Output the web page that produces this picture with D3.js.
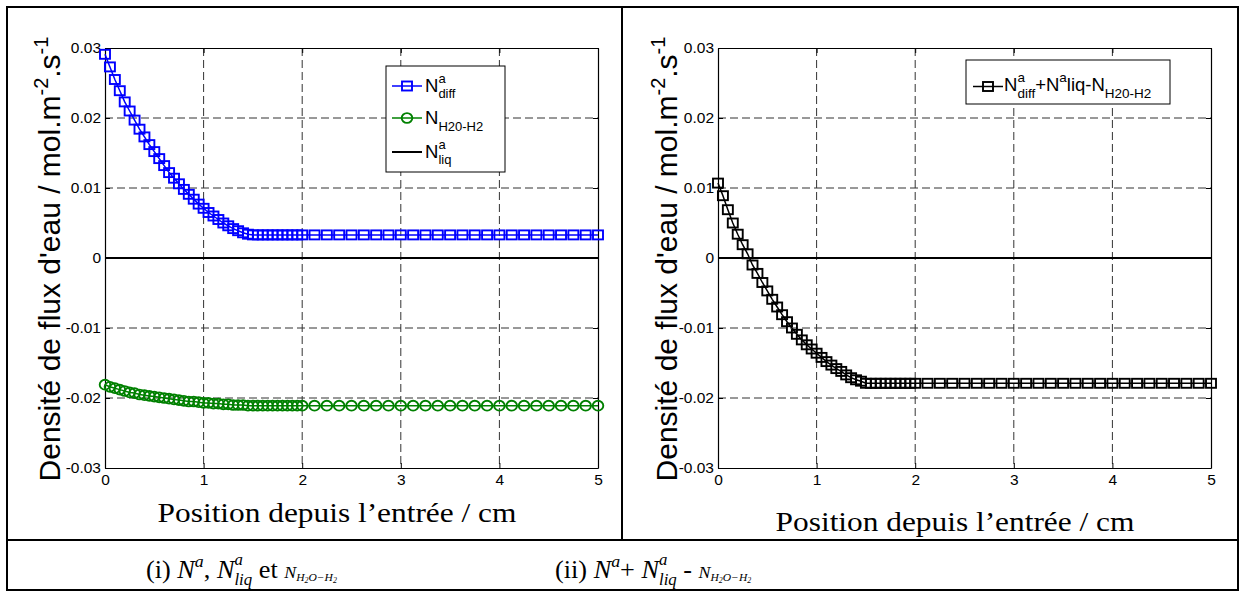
<!DOCTYPE html>
<html><head><meta charset="utf-8">
<script src="https://cdn.jsdelivr.net/npm/d3@7"></script>
<style>body{margin:0;background:#fff}svg{display:block}text{white-space:pre}</style>
</head><body>
<svg id="c" width="1245" height="597"></svg>
<script>
// ---------- data ----------
const positions = [0,0.05,0.1,0.15,0.2,0.25,0.3,0.35,0.4,0.45,0.5,0.55,0.6,0.65,0.7,0.75,0.8,0.85,0.9,0.95,
  1,1.05,1.1,1.15,1.2,1.25,1.3,1.35,1.4,1.45,1.5,1.55,1.6,1.65,1.7,1.75,1.8,1.85,1.9,1.95,2,
  2.125,2.25,2.375,2.5,2.625,2.75,2.875,3,3.125,3.25,3.375,3.5,3.625,3.75,3.875,4,4.125,4.25,4.375,4.5,4.625,4.75,4.875,5];
const nDiff = [0.0291,0.0273,0.0255,0.0239,0.0223,0.0210,0.0197,0.0184,0.0173,0.0162,0.0152,0.0142,0.0132,0.0122,0.0114,0.0106,0.0098,0.0091,0.0084,0.0077,
  0.0071,0.0065,0.0060,0.0055,0.0050,0.0046,0.0042,0.0039,0.0036,0.0034,0.0033,0.0033,0.0033,0.0033,0.0033,0.0033,0.0033,0.0033,0.0033,0.0033,0.0033,
  0.0033,0.0033,0.0033,0.0033,0.0033,0.0033,0.0033,0.0033,0.0033,0.0033,0.0033,0.0033,0.0033,0.0033,0.0033,0.0033,0.0033,0.0033,0.0033,0.0033,0.0033,0.0033,0.0033,0.0033];
const nH2OH2 = [-0.0181,-0.0184,-0.0186,-0.0188,-0.0190,-0.0192,-0.0193,-0.0195,-0.0196,-0.0197,-0.0198,-0.0199,-0.0200,-0.0201,-0.0202,-0.0203,-0.0204,-0.0205,-0.0205,-0.0206,
  -0.0207,-0.0207,-0.0208,-0.0208,-0.0209,-0.0209,-0.0210,-0.0210,-0.0210,-0.0211,-0.0211,-0.0211,-0.0211,-0.0211,-0.0211,-0.0211,-0.0211,-0.0211,-0.0211,-0.0211,-0.0211,
  -0.0211,-0.0211,-0.0211,-0.0211,-0.0211,-0.0211,-0.0211,-0.0211,-0.0211,-0.0211,-0.0211,-0.0211,-0.0211,-0.0211,-0.0211,-0.0211,-0.0211,-0.0211,-0.0211,-0.0211,-0.0211,-0.0211,-0.0211,-0.0211];
const nLiqX = [0,5];
const nLiq = [0,0];
const nSum = [0.0107,0.0089,0.0069,0.0050,0.0034,0.0019,0.0006,-0.0010,-0.0022,-0.0035,-0.0047,-0.0059,-0.0070,-0.0081,-0.0091,-0.0100,-0.0109,-0.0117,-0.0124,-0.0130,
  -0.0136,-0.0142,-0.0148,-0.0153,-0.0158,-0.0162,-0.0167,-0.0171,-0.0174,-0.0176,-0.0179,-0.0179,-0.0179,-0.0179,-0.0179,-0.0179,-0.0179,-0.0179,-0.0179,-0.0179,-0.0179,
  -0.0179,-0.0179,-0.0179,-0.0179,-0.0179,-0.0179,-0.0179,-0.0179,-0.0179,-0.0179,-0.0179,-0.0179,-0.0179,-0.0179,-0.0179,-0.0179,-0.0179,-0.0179,-0.0179,-0.0179,-0.0179,-0.0179,-0.0179,-0.0179];
const xTicks = [0,1,2,3,4,5];
const xTickLabels = ["0","1","2","3","4","5"];
const yTicks = [-0.03,-0.02,-0.01,0,0.01,0.02,0.03];
const yTickLabels = ["-0.03","-0.02","-0.01","0","0.01","0.02","0.03"];

// ---------- helpers ----------
const svg = d3.select('#c');
const SANS = "'Liberation Sans', Arial, sans-serif";
const SERIF = "'Liberation Serif', 'Times New Roman', serif";

function rich(g, x, y, runs, family) {
  let cx = x, stackStart = null, stackEnd = 0;
  runs.forEach(r => {
    const t = g.append('text').attr('x', cx).attr('y', y + (r.dy || 0))
      .attr('font-family', r.family || family).attr('font-size', r.size)
      .attr('font-style', r.italic ? 'italic' : 'normal').attr('fill', '#000').text(r.t);
    const w = t.node().getComputedTextLength();
    if (r.stack) { stackStart = cx; stackEnd = cx + w; }
    else if (stackStart !== null) { cx = Math.max(stackEnd, cx + w); stackStart = null; }
    else cx += w;
  });
  return cx;
}

function marker(g, type, cx, cy, color) {
  if (type === 'square') {
    g.append('rect').attr('x', cx - 5).attr('y', cy - 4.5).attr('width', 10).attr('height', 9)
      .attr('fill', 'none').attr('stroke', color).attr('stroke-width', 1.9);
  } else {
    g.append('ellipse').attr('cx', cx).attr('cy', cy).attr('rx', 5.3).attr('ry', 4.9)
      .attr('fill', 'none').attr('stroke', color).attr('stroke-width', 1.9);
  }
}

function panel(left, series) {
  const x = d3.scaleLinear().domain([0, 5]).range([left, left + 493]);
  const y = d3.scaleLinear().domain([-0.03, 0.03]).range([468, 48]);
  const g = svg.append('g');

  g.selectAll('.vg').data(xTicks.slice(1, -1)).join('line')
    .attr('x1', d => x(d)).attr('x2', d => x(d)).attr('y1', y(0.03)).attr('y2', y(-0.03))
    .attr('stroke', '#333').attr('stroke-width', 1).attr('stroke-dasharray', '8,4');
  g.selectAll('.hg').data(yTicks.slice(1, -1)).join('line')
    .attr('y1', d => y(d)).attr('y2', d => y(d)).attr('x1', x(0)).attr('x2', x(5))
    .attr('stroke', '#333').attr('stroke-width', 1).attr('stroke-dasharray', '8,4');

  const fmtY = d => yTickLabels[yTicks.indexOf(d)];
  const fmtX = d => xTickLabels[xTicks.indexOf(d)];
  const ax = [
    g.append('g').attr('transform', `translate(0,${y(-0.03)})`).call(d3.axisBottom(x).tickValues(xTicks).tickFormat(fmtX).tickSize(-5).tickSizeOuter(0).tickPadding(6)),
    g.append('g').attr('transform', `translate(0,${y(0.03)})`).call(d3.axisTop(x).tickValues(xTicks).tickFormat('').tickSize(-5).tickSizeOuter(0)),
    g.append('g').attr('transform', `translate(${x(0)},0)`).call(d3.axisLeft(y).tickValues(yTicks).tickFormat(fmtY).tickSize(-5).tickSizeOuter(0).tickPadding(4)),
    g.append('g').attr('transform', `translate(${x(5)},0)`).call(d3.axisRight(y).tickValues(yTicks).tickFormat('').tickSize(-5).tickSizeOuter(0))
  ];
  ax.forEach(a => {
    a.selectAll('text').attr('font-family', SANS).attr('font-size', 15.5).attr('fill', '#000');
    a.selectAll('line').attr('stroke', '#000');
    a.select('.domain').attr('stroke', '#000').attr('stroke-width', 1.2);
  });

  g.append('path').datum(nLiqX.map((d, i) => [d, nLiq[i]]))
    .attr('d', d3.line().x(d => x(d[0])).y(d => y(d[1])))
    .attr('fill', 'none').attr('stroke', '#000').attr('stroke-width', 2);

  series.forEach(s => {
    const pts = positions.map((p, i) => [p, s.values[i]]);
    g.append('path').datum(pts).attr('d', d3.line().x(d => x(d[0])).y(d => y(d[1])))
      .attr('fill', 'none').attr('stroke', s.color).attr('stroke-width', 1.5);
    const mg = g.append('g');
    pts.forEach(d => marker(mg, s.marker, x(d[0]), y(d[1]), s.color));
  });
  return {x, y, g};
}

const L = panel(105, [
  {values: nDiff, color: '#0000ff', marker: 'square'},
  {values: nH2OH2, color: '#008000', marker: 'circle'}
]);
const R = panel(718, [
  {values: nSum, color: '#000000', marker: 'square'}
]);

// y-axis labels
function yLabel(cx) {
  const t = svg.append('text').attr('transform', `translate(${cx},259) rotate(-90)`)
    .attr('text-anchor', 'middle').attr('font-family', SANS).attr('font-size', 30).attr('fill', '#000');
  t.append('tspan').text("Densité de flux d'eau / mol.m");
  t.append('tspan').attr('dy', -12).attr('font-size', 20).text('-2');
  t.append('tspan').attr('dy', 12).text('.s');
  t.append('tspan').attr('dy', -12).attr('font-size', 20).text('-1');
}
yLabel(60);
yLabel(677);

// x-axis labels (stretched horizontally)
function xLabel(cx, by, target) {
  const g = svg.append('g');
  const t = g.append('text').attr('x', 0).attr('y', 0).attr('text-anchor', 'middle')
    .attr('font-family', SERIF).attr('font-size', 27).attr('fill', '#000').text('Position depuis l’entrée / cm');
  const w = t.node().getComputedTextLength();
  g.attr('transform', `translate(${cx},${by}) scale(${target / w},1)`);
}
xLabel(337, 522, 359);
xLabel(955, 531, 359);

// ---------- legends ----------
const lg = svg.append('g');
lg.append('rect').attr('x', 386).attr('y', 66).attr('width', 119).attr('height', 106)
  .attr('fill', '#fff').attr('stroke', '#000').attr('stroke-width', 1);
const legL = [
  {y: 86, color: '#0000ff', marker: 'square', runs: [{t:'N', size:18.5}, {t:'a', size:13, dy:-9, stack:true}, {t:'diff', size:13, dy:6}]},
  {y: 118, color: '#008000', marker: 'circle', runs: [{t:'N', size:18.5}, {t:'H20-H2', size:13, dy:7}]},
  {y: 152, color: '#000000', marker: null, runs: [{t:'N', size:18.5}, {t:'a', size:13, dy:-9, stack:true}, {t:'liq', size:13, dy:6}]}
];
legL.forEach(e => {
  lg.append('line').attr('x1', 392).attr('x2', 422).attr('y1', e.y).attr('y2', e.y)
    .attr('stroke', e.color).attr('stroke-width', e.marker ? 1.5 : 2);
  if (e.marker) marker(lg, e.marker, 407, e.y, e.color);
  rich(lg, 425, e.y + 6, e.runs, SANS);
});

lg.append('rect').attr('x', 966).attr('y', 60).attr('width', 204).attr('height', 44)
  .attr('fill', '#fff').attr('stroke', '#000').attr('stroke-width', 1);
lg.append('line').attr('x1', 973).attr('x2', 1003).attr('y1', 86.5).attr('y2', 86.5)
  .attr('stroke', '#000').attr('stroke-width', 1.5);
marker(lg, 'square', 988, 86.5, '#000');
rich(lg, 1004, 91, [
  {t:'N', size:18.5}, {t:'a', size:13.5, dy:-9, stack:true}, {t:'diff', size:13.5, dy:7},
  {t:'+N', size:18.5}, {t:'a', size:13.5, dy:-9}, {t:'liq-N', size:18.5}, {t:'H20-H2', size:13.5, dy:7}
], SANS);

// ---------- table frame ----------
const fr = svg.append('g').attr('stroke', '#000').attr('stroke-width', 2).attr('fill', 'none');
fr.append('rect').attr('x', 7).attr('y', 7).attr('width', 1231).attr('height', 583);
fr.append('line').attr('x1', 7).attr('x2', 1238).attr('y1', 540).attr('y2', 540);
fr.append('line').attr('x1', 622).attr('x2', 622).attr('y1', 7).attr('y2', 540);

// ---------- captions ----------
function caption(x, y, runs, sx) {
  const g = svg.append('g');
  const end = rich(g, 0, 0, runs, SERIF);
  g.attr('transform', `translate(${x},${y}) scale(${sx},1)`);
  return end;
}
const capI = [
  {t:'(i) ', size:25}, {t:'N', size:25, italic:true}, {t:'a', size:17, italic:true, dy:-11},
  {t:', ', size:25}, {t:'N', size:25, italic:true}, {t:'a', size:16, italic:true, dy:-13, stack:true},
  {t:'liq', size:16, italic:true, dy:7}, {t:' et ', size:25},
  {t:'N', size:17, italic:true}, {t:'H', size:11, italic:true, dy:3}, {t:'2', size:7.5, italic:true, dy:5},
  {t:'O−H', size:11, italic:true, dy:3}, {t:'2', size:7.5, italic:true, dy:5}
];
const capII = [
  {t:'(ii) ', size:25}, {t:'N', size:25, italic:true}, {t:'a', size:17, italic:true, dy:-11},
  {t:'+ ', size:25}, {t:'N', size:25, italic:true}, {t:'a', size:16, italic:true, dy:-13, stack:true},
  {t:'liq', size:16, italic:true, dy:7}, {t:' - ', size:25},
  {t:'N', size:17, italic:true}, {t:'H', size:11, italic:true, dy:3}, {t:'2', size:7.5, italic:true, dy:5},
  {t:'O−H', size:11, italic:true, dy:3}, {t:'2', size:7.5, italic:true, dy:5}
];
caption(146, 578, capI, 1.05);
caption(555, 578, capII, 1.05);
</script>
</body></html>
